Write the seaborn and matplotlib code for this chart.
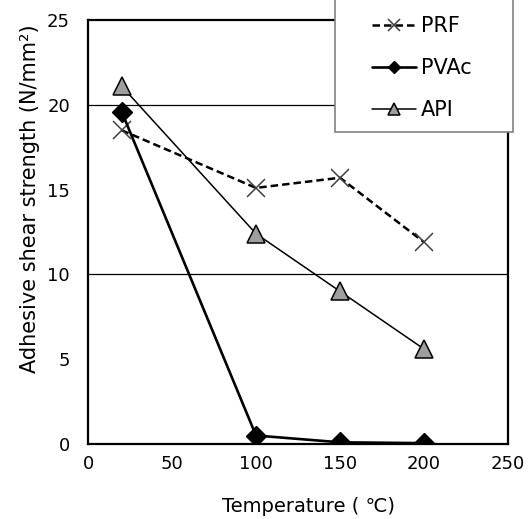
import matplotlib
matplotlib.use("Agg")
import matplotlib.pyplot as plt
import seaborn as sns
from matplotlib.ticker import MultipleLocator
from matplotlib.patches import Rectangle

# data
temperature = [20, 100, 150, 200]
prf = [18.5, 15.1, 15.7, 11.9]
pvac = [19.6, 0.5, 0.1, 0.05]
api = [21.1, 12.4, 9.0, 5.6]
series_labels = ["PRF", "PVAc", "API"]

sns.set_style("white")
plt.rcParams['font.family'] = ['DejaVu Sans']
plt.rcParams['text.color'] = 'black'
plt.rcParams['axes.labelcolor'] = 'black'

fig = plt.figure(figsize=(5.31, 5.19), dpi=100)
ax = fig.add_axes([88/531, 1-444/519, 420/531, 424/519])

sns.lineplot(x=temperature, y=prf, ax=ax, color='black', lw=1.8,
             linestyle=(0, (3, 1.6)), marker='x', markersize=13,
             markeredgecolor='#404040', markeredgewidth=1.1, zorder=3)
sns.lineplot(x=temperature, y=pvac, ax=ax, color='black', lw=1.9,
             marker='D', markersize=10, markerfacecolor='black',
             markeredgecolor='black', markeredgewidth=1, zorder=3)
sns.lineplot(x=temperature, y=api, ax=ax, color='black', lw=1.1,
             marker='^', markersize=13, markerfacecolor='#9e9e9e',
             markeredgecolor='black', markeredgewidth=1.1, zorder=3)

ax.set_xlim(0, 250)
ax.set_ylim(0, 25)
ax.xaxis.set_major_locator(MultipleLocator(50))
ax.yaxis.set_major_locator(MultipleLocator(5))
ax.yaxis.set_minor_locator(MultipleLocator(10))
ax.yaxis.remove_overlapping_locs = False
ax.grid(False)
ax.grid(axis='y', which='minor', color='black', lw=0.9)
ax.tick_params(axis='x', direction='in', length=4, width=1, color='#555555',
               labelcolor='black', labelsize=13, pad=8)
ax.tick_params(axis='y', which='both', length=0, labelcolor='black',
               labelsize=13, pad=13)
for s in ax.spines.values():
    s.set_color('black')
    s.set_linewidth(1.6)

ax.set_xlabel('Temperature ( ℃)', fontsize=14)
ax.set_ylabel('Adhesive shear strength (N/mm²)', fontsize=15)
ax.xaxis.set_label_coords(0.526, -0.125)
ax.yaxis.set_label_coords(-0.114, 0.578)

# legend box
box = Rectangle((335/531, 1-132/519), 178/531, 0.3, transform=fig.transFigure,
                facecolor='white', edgecolor='#808080', lw=1.2, zorder=4)
fig.patches.append(box)
leg = fig.legend(ax.get_lines()[:3], series_labels, loc='upper left',
                 bbox_to_anchor=(372/531, 1-16/519), frameon=False,
                 borderpad=0, borderaxespad=0, fontsize=15, markerscale=0.65,
                 handlelength=2.1, handletextpad=0.25, labelspacing=1.06)
leg.set_zorder(6)

fig.savefig('out.png', dpi=100)
